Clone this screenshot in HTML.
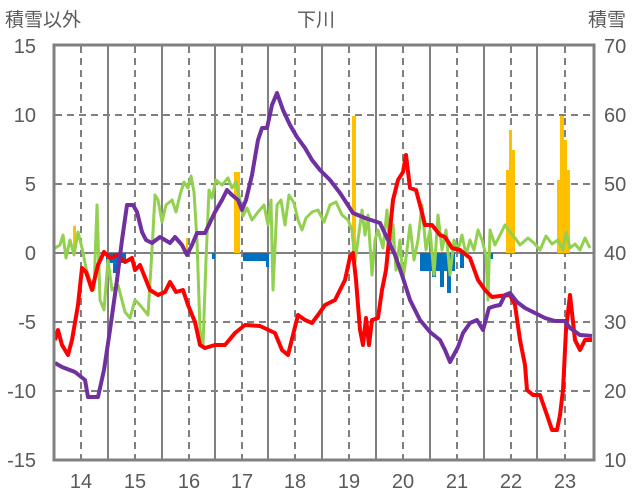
<!DOCTYPE html><html><head><style>body{margin:0;background:#fff}svg{display:block;font-family:"Liberation Sans","Noto Sans CJK JP",sans-serif}</style></head><body>
<svg width="636" height="501" viewBox="0 0 636 501">
<g fill="#595959" font-size="20">
<text x="5" y="26" font-size="19">積雪以外</text><text x="297" y="26" font-size="19">下川</text><text x="588" y="26" font-size="19">積雪</text>
<g text-anchor="end"><text x="36" y="53">15</text><text x="36" y="122">10</text><text x="36" y="191">5</text><text x="36" y="260">0</text><text x="36" y="329">-5</text><text x="36" y="398">-10</text><text x="36" y="467">-15</text></g>
<text x="604" y="53">70</text><text x="604" y="122">60</text><text x="604" y="191">50</text><text x="604" y="260">40</text><text x="604" y="329">30</text><text x="604" y="398">20</text><text x="604" y="467">10</text>
<g text-anchor="middle"><text x="81" y="488">14</text><text x="135" y="488">15</text><text x="189" y="488">16</text><text x="242" y="488">17</text><text x="295" y="488">18</text><text x="349" y="488">19</text><text x="403" y="488">20</text><text x="457" y="488">21</text><text x="511" y="488">22</text><text x="565" y="488">23</text></g>
</g>
<g stroke="#808080" stroke-width="2" stroke-dasharray="7,5">
<path d="M81 46V459M135 46V459M189 46V459M242 46V459M295 46V459M349 46V459M403 46V459M457 46V459M511 46V459M565 46V459M55 115H593M55 184H593M55 322H593M55 391H593"/></g>
<g stroke="#808080" stroke-width="2"><path d="M108 46V459M162 46V459M215 46V459M268 46V459M322 46V459M376 46V459M430 46V459M484 46V459M537 46V459M55 253H593"/></g>
<g fill="#ffc000"><rect x="73" y="226" width="3" height="27"/><rect x="234" y="172" width="6" height="81"/><rect x="186" y="238" width="2" height="15"/><rect x="352" y="116" width="4" height="137"/><rect x="506" y="170" width="3" height="83"/><rect x="509" y="130" width="3" height="123"/><rect x="512" y="150" width="3" height="103"/><rect x="557" y="180" width="3" height="73"/><rect x="560" y="116" width="4" height="137"/><rect x="564" y="140" width="3" height="113"/><rect x="567" y="170" width="3" height="83"/></g>
<g fill="#0070c0"><rect x="106" y="253" width="20" height="10"/><rect x="113" y="253" width="4" height="20"/><rect x="150" y="253" width="3" height="6"/><rect x="196" y="253" width="2" height="6"/><rect x="212" y="253" width="3" height="6"/><rect x="243" y="253" width="25" height="8"/><rect x="266" y="253" width="3" height="14"/><rect x="420" y="253" width="35" height="18"/><rect x="432" y="253" width="4" height="24"/><rect x="440" y="253" width="4" height="34"/><rect x="447" y="253" width="4" height="40"/><rect x="460" y="253" width="4" height="15"/><rect x="490" y="253" width="3" height="6"/></g>
<polyline fill="none" stroke="#92d050" stroke-width="3" stroke-linejoin="round" points="55,248 60,245 63,235 66,258 70,240 74,255 78,232 82,248 86,268 90,280 94,290 97,205 100,300 104,310 108,260 112,290 118,285 125,312 130,318 135,300 140,305 148,315 152,250 155,195 158,200 162,222 166,205 172,200 176,212 180,195 184,182 188,188 191,176 194,192 197,240 200,330 203,345 206,260 209,190 212,198 216,180 222,185 228,178 232,188 236,182 240,200 243,216 247,208 252,220 258,212 264,205 268,225 271,200 273,290 277,205 281,200 285,225 289,195 294,203 298,220 302,230 306,218 312,212 318,210 324,222 330,205 336,202 342,215 348,220 352,230 355,262 358,240 362,210 365,235 368,215 372,275 375,240 378,230 383,248 387,210 390,250 393,225 396,270 400,240 403,280 407,250 410,225 414,260 418,240 422,205 426,250 430,230 434,275 438,215 442,250 446,230 450,275 454,240 458,250 462,235 466,255 470,240 474,250 478,230 482,240 486,255 488,300 490,230 495,245 500,235 505,225 510,232 515,238 520,245 528,238 535,244 540,250 546,236 552,244 558,240 563,250 566,232 570,248 575,244 580,250 585,238 590,248"/>
<polyline fill="none" stroke="#ff0000" stroke-width="4" stroke-linejoin="round" points="55,340 58,330 62,345 68,355 72,340 78,305 82,268 86,272 92,290 98,265 104,252 110,258 118,255 125,262 132,258 135,270 140,265 150,290 158,295 165,292 170,282 176,292 183,290 188,305 195,322 200,345 205,348 215,345 225,345 235,333 245,325 260,326 275,333 282,350 288,355 293,335 298,315 305,320 312,323 318,315 325,305 335,300 345,280 350,257 353,253 356,280 360,330 363,345 366,318 369,345 372,320 378,318 382,290 386,270 390,230 393,200 398,180 403,172 406,155 410,188 416,190 420,205 425,225 432,225 440,235 445,237 452,248 460,250 470,258 478,280 485,290 492,297 500,296 510,295 515,305 520,340 525,365 527,390 533,395 540,395 548,418 552,430 557,430 560,415 563,390 566,330 570,295 575,340 580,350 585,340 592,340"/>
<polyline fill="none" stroke="#7030a0" stroke-width="4" stroke-linejoin="round" points="55,363 62,367 75,372 85,380 88,397 98,397 104,370 110,330 117,280 122,240 127,205 133,205 137,212 142,232 146,240 152,243 160,237 170,243 175,237 182,245 187,255 192,245 197,233 205,233 215,212 222,200 227,190 232,195 238,200 242,210 246,200 252,175 258,140 262,128 267,128 272,105 277,93 283,110 290,125 297,137 305,148 312,160 320,170 330,180 340,193 353,213 365,218 380,223 388,240 395,255 402,275 410,300 420,320 430,332 440,340 445,350 450,362 458,347 463,333 470,323 477,320 483,330 489,308 495,306 500,305 505,295 510,293 517,302 525,308 535,313 545,318 555,321 565,321 570,328 580,335 592,336"/>
<rect x="54" y="45" width="540" height="415" fill="none" stroke="#808080" stroke-width="3"/>
</svg></body></html>
